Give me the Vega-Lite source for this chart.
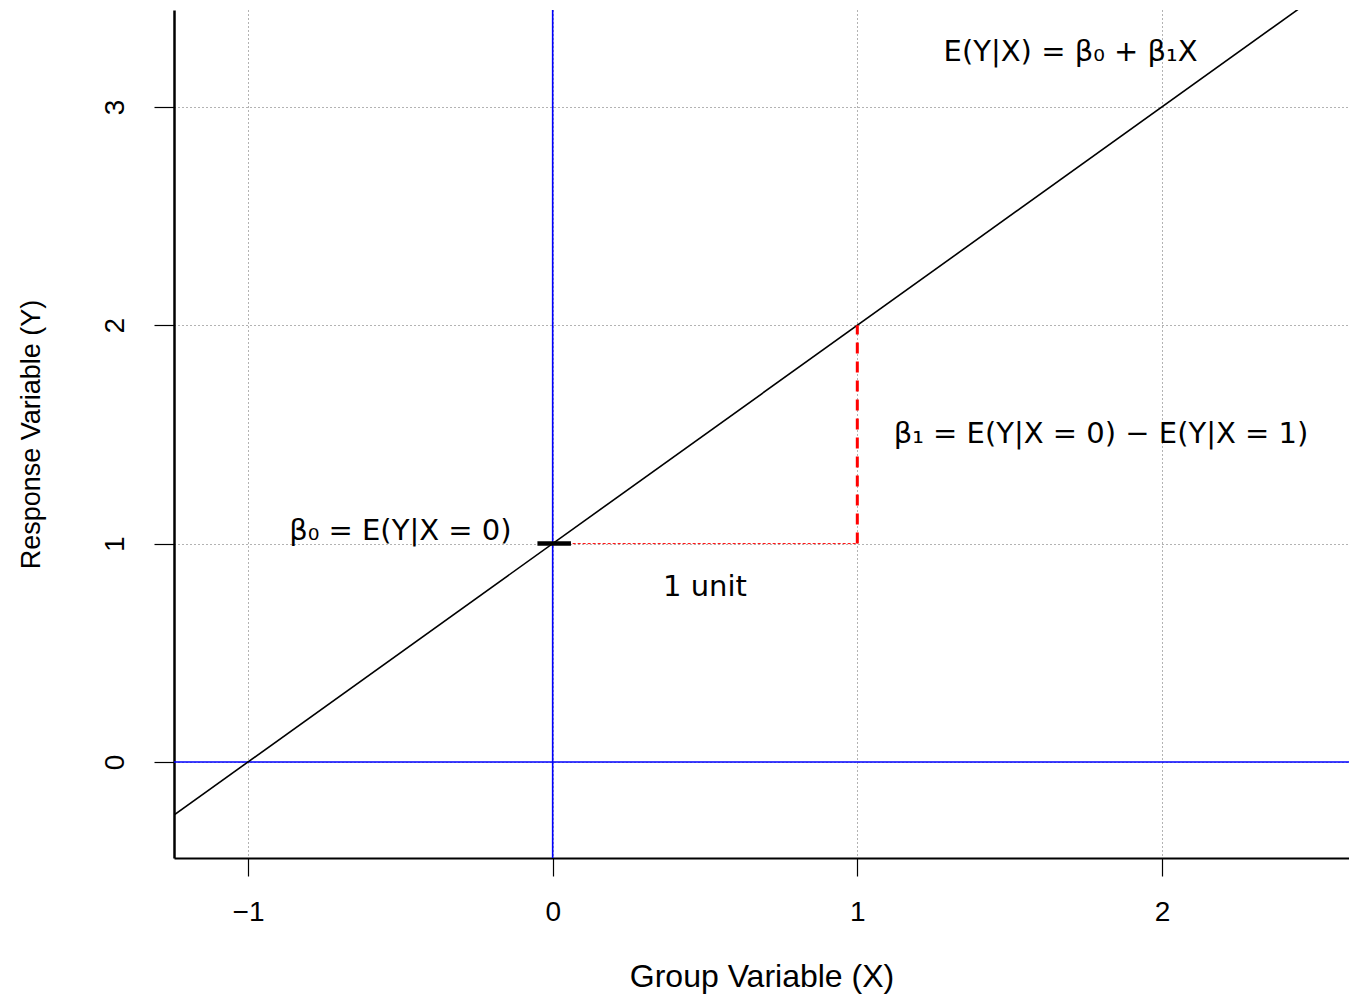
{
  "$schema": "https://vega.github.io/schema/vega-lite/v6.json",
  "width": 1175,
  "height": 848,
  "autosize": {"type": "none"},
  "padding": {"left": 174, "top": 10, "right": 0, "bottom": 137},
  "background": "white",
  "config": {"view": {"stroke": null}, "font": "Liberation Sans"},
  "layer": [
    {
      "data": {"values": [{"x": 0}]},
      "mark": {"type": "rule", "color": "#0000ff", "strokeWidth": 1.6},
      "encoding": {
        "x": {
          "field": "x", "type": "quantitative",
          "scale": {"domain": [-1.243, 2.614], "nice": false, "zero": false},
          "axis": {
            "values": [-1, 0, 1, 2], "format": "d",
            "title": "Group Variable (X)",
            "domainColor": "black", "domainWidth": 2,
            "tickColor": "black", "tickWidth": 1.2, "tickSize": 18,
            "labelFont": "Liberation Sans", "labelFontSize": 28, "labelColor": "black",
            "labelPadding": 22, "labelFlush": false, "labelOverlap": false,
            "grid": true, "gridColor": "#666666", "gridDash": [1, 3], "gridWidth": 1,
            "titleFont": "Liberation Sans", "titleFontSize": 32, "titleFontWeight": "normal",
            "titleColor": "black", "titlePadding": 35
          }
        }
      }
    },
    {
      "data": {"values": [{"y": 0}]},
      "mark": {"type": "rule", "color": "#0000ff", "strokeWidth": 1.6},
      "encoding": {
        "y": {
          "field": "y", "type": "quantitative",
          "scale": {"domain": [-0.44, 3.444], "nice": false, "zero": false},
          "axis": {
            "values": [0, 1, 2, 3], "format": "d",
            "title": "Response Variable (Y)",
            "domainColor": "black", "domainWidth": 2.5,
            "tickColor": "black", "tickWidth": 1.2, "tickSize": 20,
            "labelFont": "Liberation Sans", "labelFontSize": 28, "labelColor": "black",
            "labelAngle": 270, "labelAlign": "center", "labelBaseline": "bottom",
            "labelPadding": 25, "labelFlush": false, "labelOverlap": false,
            "grid": true, "gridColor": "#666666", "gridDash": [1, 3], "gridWidth": 1,
            "titleFont": "Liberation Sans", "titleFontSize": 27, "titleFontWeight": "normal",
            "titleColor": "black", "titleAngle": 270, "titleBaseline": "bottom",
            "titlePadding": 56
          }
        }
      }
    },
    {
      "data": {"values": [{"x": -1.3, "y": -0.3}, {"x": 2.7, "y": 3.7}]},
      "mark": {"type": "line", "color": "black", "strokeWidth": 1.6, "clip": true},
      "encoding": {
        "x": {"field": "x", "type": "quantitative", "title": "Group Variable (X)", "scale": {"domain": [-1.243, 2.614], "nice": false, "zero": false}},
        "y": {"field": "y", "type": "quantitative", "title": "Response Variable (Y)", "scale": {"domain": [-0.44, 3.444], "nice": false, "zero": false}}
      }
    },
    {
      "data": {"values": [{"x": 0, "x2": 1, "y": 1}]},
      "mark": {"type": "rule", "color": "#ff0000", "strokeWidth": 1, "strokeDash": [3, 2]},
      "encoding": {
        "x": {"field": "x", "type": "quantitative", "title": "Group Variable (X)", "scale": {"domain": [-1.243, 2.614], "nice": false, "zero": false}},
        "x2": {"field": "x2"},
        "y": {"field": "y", "type": "quantitative", "title": "Response Variable (Y)", "scale": {"domain": [-0.44, 3.444], "nice": false, "zero": false}}
      }
    },
    {
      "data": {"values": [{"x": 1, "y": 1, "y2": 2}]},
      "mark": {"type": "rule", "color": "#ff0000", "strokeWidth": 3, "strokeDash": [11, 8]},
      "encoding": {
        "x": {"field": "x", "type": "quantitative", "title": "Group Variable (X)", "scale": {"domain": [-1.243, 2.614], "nice": false, "zero": false}},
        "y": {"field": "y", "type": "quantitative", "title": "Response Variable (Y)", "scale": {"domain": [-0.44, 3.444], "nice": false, "zero": false}},
        "y2": {"field": "y2"}
      }
    },
    {
      "data": {"values": [{"x": -0.05, "x2": 0.06, "y": 1}]},
      "mark": {"type": "rule", "color": "black", "strokeWidth": 4.5},
      "encoding": {
        "x": {"field": "x", "type": "quantitative", "title": "Group Variable (X)", "scale": {"domain": [-1.243, 2.614], "nice": false, "zero": false}},
        "x2": {"field": "x2"},
        "y": {"field": "y", "type": "quantitative", "title": "Response Variable (Y)", "scale": {"domain": [-0.44, 3.444], "nice": false, "zero": false}}
      }
    },
    {
      "data": {"values": [
        {"x": 1.7, "y": 3.25, "label": "E(Y|X) = β₀ + β₁X"},
        {"x": 1.8, "y": 1.5, "label": "β₁ = E(Y|X = 0) − E(Y|X = 1)"},
        {"x": -0.5, "y": 1.06, "label": "β₀ = E(Y|X = 0)"},
        {"x": 0.5, "y": 0.8, "label": "1 unit"}
      ]},
      "mark": {"type": "text", "font": "DejaVu Sans", "fontSize": 29, "color": "black", "align": "center", "baseline": "middle"},
      "encoding": {
        "x": {"field": "x", "type": "quantitative", "title": "Group Variable (X)", "scale": {"domain": [-1.243, 2.614], "nice": false, "zero": false}},
        "y": {"field": "y", "type": "quantitative", "title": "Response Variable (Y)", "scale": {"domain": [-0.44, 3.444], "nice": false, "zero": false}},
        "text": {"field": "label"}
      }
    }
  ]
}
